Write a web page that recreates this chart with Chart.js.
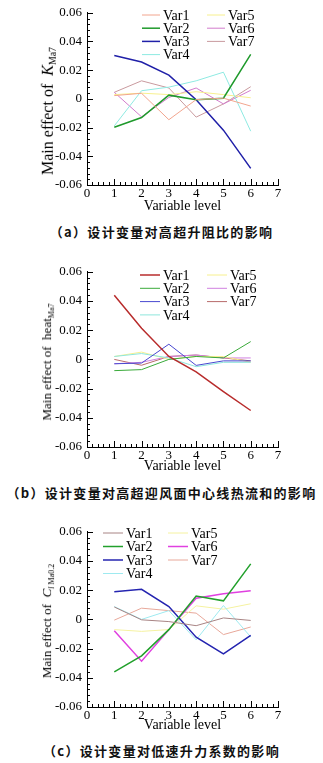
<!DOCTYPE html>
<html lang="zh">
<head>
<meta charset="UTF-8">
<title>设计变量主效应</title>
<script src="https://cdn.jsdelivr.net/npm/chart.js"></script>
<style>
    body { margin: 0; background: #fff; width: 323px; height: 763px; overflow: hidden; position: relative; }
    .painel { position: absolute; left: 0; width: 323px; height: 244px; }
    .painel canvas { position: absolute; left: 0; top: 0; }
    .ytitulo { position: absolute; font-family: "Liberation Serif", serif; white-space: nowrap; color: #000;
        transform: translate(-50%, -50%) rotate(-90deg); line-height: 1; }
    .ytitulo sub { font-size: 62%; vertical-align: -0.35em; }
    .caption { position: absolute; left: 0; width: 323px; text-align: center; color: #111;
        font-family: "Noto Sans CJK SC", sans-serif; font-size: 13px; font-weight: bold; letter-spacing: 1.3px; white-space: nowrap; }
</style>
</head>
<body>
    <div class="painel" style="top:0px">
        <canvas id="grafico_a" width="323" height="216"></canvas>
        <div class="ytitulo" style="left:49px; top:111px; font-size:16px">Main effect of &nbsp;<i>K</i><sub>Ma7</sub></div>
        <div class="caption" style="top:222px">（a）设计变量对高超升阻比的影响</div>
    </div>
    <div class="painel" style="top:259px">
        <canvas id="grafico_b" width="323" height="216"></canvas>
        <div class="ytitulo" style="left:48px; top:103px; font-size:13px">Main effect of &nbsp;heat<sub>Ma7</sub></div>
        <div class="caption" style="top:224px">（b）设计变量对高超迎风面中心线热流和的影响</div>
    </div>
    <div class="painel" style="top:519px">
        <canvas id="grafico_c" width="323" height="216"></canvas>
        <div class="ytitulo" style="left:48px; top:102px; font-size:13px">Main effect of &nbsp;<i>C</i><sub><i>l</i> Ma0.2</sub></div>
        <div class="caption" style="top:222px">（c）设计变量对低速升力系数的影响</div>
    </div>

<script>
    // variable levels on the x axis and the seven design variables
    const niveis = [1, 2, 3, 4, 5, 6];
    const variaveis = ['Var1', 'Var2', 'Var3', 'Var4', 'Var5', 'Var6', 'Var7'];

    // (a) main effect on K_Ma7 (lift/drag ratio), one row per variable
    const efeitoK = [
        [0.0023, 0.0039, -0.0145, -0.0005, 0.0005, -0.0050],
        [-0.0198, -0.0130, 0.0026, -0.0006, 0.0005, 0.0310],
        [0.0302, 0.0257, 0.0166, -0.0006, -0.0218, -0.0484],
        [-0.0188, 0.0057, 0.0082, 0.0126, 0.0186, -0.0225],
        [0.0030, 0.0040, 0.0030, 0.0050, 0.0030, 0.0008],
        [0.0046, -0.0125, 0.0010, 0.0076, -0.0035, 0.0060],
        [0.0046, 0.0126, 0.0076, -0.0127, -0.0035, 0.0085]
    ];

    // (b) main effect on heat_Ma7 (windward centreline heat flux)
    const efeitoHeat = [
        [0.0440, 0.0213, 0.0020, -0.0085, -0.0220, -0.0350],
        [-0.0077, -0.0070, 0.0000, 0.0020, 0.0010, 0.0122],
        [-0.0030, -0.0025, 0.0104, -0.0041, -0.0010, -0.0010],
        [0.0020, 0.0040, 0.0010, -0.0050, -0.0020, -0.0020],
        [0.0020, 0.0050, 0.0000, 0.0020, 0.0020, -0.0020],
        [-0.0030, -0.0020, 0.0020, 0.0030, 0.0010, 0.0010],
        [0.0000, -0.0040, 0.0020, 0.0030, 0.0010, -0.0010]
    ];

    // (c) main effect on C_l Ma0.2 (low speed lift coefficient)
    const efeitoCl = [
        [0.0085, -0.0003, -0.0015, -0.0043, 0.0010, -0.0007],
        [-0.0360, -0.0250, -0.0070, 0.0160, 0.0127, 0.0380],
        [0.0190, 0.0206, 0.0088, -0.0122, -0.0236, -0.0109],
        [0.0088, 0.0000, 0.0060, -0.0140, 0.0095, -0.0120],
        [-0.0070, -0.0082, -0.0070, 0.0093, 0.0070, 0.0107],
        [-0.0077, -0.0286, -0.0070, 0.0145, 0.0175, 0.0197],
        [-0.0005, 0.0077, 0.0060, 0.0043, -0.0104, -0.0052]
    ];

    const coresA = ['#f2a58e', '#1f9a2c', '#2020a8', '#8eeae2', '#f7f08e', '#d27ccc', '#c99a9e'];
    const coresB = ['#b82c2c', '#3aaa3a', '#4848d0', '#8ee6dc', '#f7f08e', '#d080e0', '#b86a6a'];
    const coresC = ['#a88484', '#22a02c', '#2424b0', '#9eeaf0', '#f5f2a0', '#e040e0', '#e8a89a'];

    Chart.defaults.font.family = '"Liberation Serif", serif';
    Chart.defaults.color = '#000';

    // tick marks pointing into the plot, minor every 0.2 / 0.004
    const ticksInternos = {
        id: 'ticksInternos',
        afterDraw(chart) {
            const ctx = chart.ctx;
            const xs = chart.scales.x;
            const ys = chart.scales.y;
            ctx.save();
            ctx.strokeStyle = '#000';
            ctx.lineWidth = 1;
            ctx.beginPath();
            for (let i = 0; i <= 35; i++) {
                const px = Math.round(xs.getPixelForValue(i * 0.2)) + 0.5;
                const len = i % 5 == 0 ? 6 : 3;
                ctx.moveTo(px, ys.bottom);
                ctx.lineTo(px, ys.bottom - len);
            }
            for (let i = 0; i <= 30; i++) {
                const py = Math.round(ys.getPixelForValue(-0.06 + i * 0.004)) + 0.5;
                const len = i % 5 == 0 ? 6 : 3;
                ctx.moveTo(xs.left, py);
                ctx.lineTo(xs.left + len, py);
            }
            ctx.stroke();
            ctx.restore();
        }
    };

    // legend drawn inside the plot, two columns (Var1-4 | Var5-7)
    const legendaInterna = {
        id: 'legendaInterna',
        afterDatasetsDraw(chart, args, opts) {
            const ctx = chart.ctx;
            ctx.save();
            ctx.font = '14px "Liberation Serif"';
            ctx.textBaseline = 'middle';
            chart.data.datasets.forEach((ds, i) => {
                const col = i < 4 ? 0 : 1;
                const row = i < 4 ? i : i - 4;
                const x = opts.x[col];
                const y = opts.y + row * opts.passo;
                ctx.strokeStyle = ds.borderColor;
                ctx.lineWidth = ds.borderWidth;
                ctx.beginPath();
                ctx.moveTo(x, y);
                ctx.lineTo(x + opts.linha, y);
                ctx.stroke();
                ctx.fillStyle = '#000';
                ctx.fillText(ds.label, x + opts.linha + 3, y + 1);
            });
            ctx.restore();
        }
    };

    function criarGrafico(id, serie, cores, larguras, baixo, legenda, tituloPad) {
        const datasets = serie.map((valores, i) => ({
            label: variaveis[i],
            data: niveis.map((n, j) => ({ x: n, y: valores[j] })),
            borderColor: cores[i],
            backgroundColor: cores[i],
            borderWidth: larguras[i],
            pointRadius: 0,
            tension: 0
        }));
        return new Chart(document.getElementById(id), {
            type: 'line',
            data: { datasets: datasets },
            options: {
                responsive: false,
                animation: false,
                layout: { padding: { left: 0, right: 45, top: 11, bottom: 0 } },
                plugins: {
                    legend: { display: false },
                    tooltip: { enabled: false },
                    legendaInterna: legenda
                },
                scales: {
                    x: {
                        type: 'linear',
                        min: 0, max: 7,
                        grid: { display: false, drawTicks: false },
                        border: { color: '#000', width: 1 },
                        ticks: { stepSize: 1, padding: 1, font: { size: 13 }, maxRotation: 0 },
                        title: { display: true, text: 'Variable level', font: { size: 14 }, padding: { top: 0, bottom: tituloPad } },
                        afterFit: (s) => { s.height = 216 - baixo; }
                    },
                    y: {
                        min: -0.06, max: 0.06,
                        grid: { display: false, drawTicks: false },
                        border: { color: '#000', width: 1 },
                        ticks: {
                            stepSize: 0.02, padding: 5, font: { size: 13 },
                            callback: (v) => Math.abs(v) < 1e-9 ? '0' : v.toFixed(2)
                        },
                        afterFit: (s) => { s.width = 87; }
                    }
                }
            },
            plugins: [ticksInternos, legendaInterna]
        });
    }

    const grafico_a = criarGrafico('grafico_a', efeitoK, coresA, [1, 1.5, 1.5, 1, 1, 1, 1], 185,
        { x: [142, 207], y: 15, passo: 13.2, linha: 18 }, 1.5);
    const grafico_b = criarGrafico('grafico_b', efeitoHeat, coresB, [1.5, 1, 1, 1, 1, 1, 1], 188,
        { x: [140, 207], y: 16, passo: 13.3, linha: 20 }, 0.5);
    const grafico_c = criarGrafico('grafico_c', efeitoCl, coresC, [1, 1.5, 1.5, 1, 1, 1.5, 1], 188,
        { x: [103, 168], y: 14, passo: 13.5, linha: 20 }, 1.5);
</script>
</body>
</html>
